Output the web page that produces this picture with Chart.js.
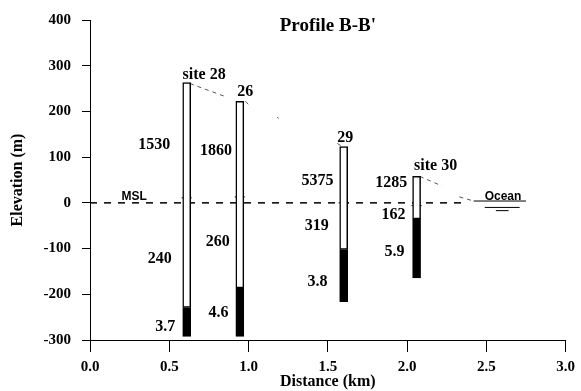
<!DOCTYPE html>
<html>
<head>
<meta charset="utf-8">
<script src="https://cdn.jsdelivr.net/npm/chart.js@4.4.1/dist/chart.umd.min.js"></script>
<style>
  html, body { margin: 0; padding: 0; background: #fff; }
  #wrap { width: 581px; height: 391px; }
</style>
</head>
<body>
<div id="wrap"><canvas id="chart"></canvas></div>
<script>
// wells along profile B-B'
const wellNames = ['site 28', '26', '29', 'site 30'];
const wellDistance = [0.61, 0.945, 1.60, 2.06];   // km
const wellTop = [263, 222, 123, 58];             // m
const wellBlackTop = [-229, -186, -102, -35];
const wellBottom = [-292, -292, -216, -164];
const wellMark = [11, 13, 0, -6];                // small cross line near MSL

// numbers written beside each well
const upperValues = ['1530', '1860', '5375', '1285'];
const middleValues = ['240', '260', '319', '162'];
const lowerValues = ['3.7', '4.6', '3.8', '5.9'];

// ground surface, only the pieces that survive in the scan (null = gap)
const profileDistance = [0.63, 0.85, 0.86, 0.98, 1.01, 1.02, 1.18, 1.19, 1.20, 1.56, 1.60, 1.61, 2.08, 2.22, 2.23, 2.33, 2.42];
const profileElev = [261, 233, null, 222, 212, null, 187, 185, null, 130, 121, null, 58, 37, null, 13, 4];

const mslDistance = [0, 2.35];
const oceanDistance = [2.42, 2.75];
const oceanLevel = 4;
const waterDistance = [[2.49, 2.71], [2.56, 2.64]];
const waterLevel = [-10, -17];

const serif = '"Liberation Serif", "Times New Roman", serif';
const sans = '"Liberation Sans", Arial, sans-serif';

// where the text goes, in km / m
const labelSpots = {
  names: [[0.72, 281], [0.98, 242], [1.61, 143], [2.18, 82]],
  upper: [[0.405, 126], [0.795, 113], [1.435, 49], [1.90, 43]],
  middle: [[0.44, -122], [0.805, -86], [1.43, -50], [1.915, -26]],
  lower: [[0.474, -272], [0.811, -240], [1.435, -173], [1.92, -108]]
};

const textLayer = {
  id: 'textLayer',
  afterDatasetsDraw(chart) {
    const {ctx, scales: {x, y}} = chart;
    ctx.save();
    ctx.fillStyle = '#000';
    ctx.textAlign = 'center';
    ctx.textBaseline = 'middle';
    const put = (text, at, font) => {
      ctx.font = font;
      ctx.fillText(text, x.getPixelForValue(at[0]), y.getPixelForValue(at[1]));
    };
    const big = 'bold 16px ' + serif;
    wellNames.forEach((t, i) => put(t, labelSpots.names[i], big));
    upperValues.forEach((t, i) => put(t, labelSpots.upper[i], big));
    middleValues.forEach((t, i) => put(t, labelSpots.middle[i], big));
    lowerValues.forEach((t, i) => put(t, labelSpots.lower[i], big));
    put("Profile B-B'", [1.5, 386], 'bold 19px ' + serif);
    put('MSL', [0.278, 14], 'bold 12px ' + sans);
    put('Ocean', [2.605, 14], 'bold 12px ' + sans);
    ctx.restore();
  }
};

const segment = (xs, yOf) => xs.map((d, i) => ({x: d, y: yOf(i)}));

const datasets = [
  {
    type: 'bar',
    data: wellDistance.map((d, i) => ({x: d, y: [wellBlackTop[i], wellTop[i]]})),
    backgroundColor: '#fff', borderColor: '#000', borderWidth: 1.5,
    borderSkipped: false, barThickness: 8, grouped: false
  },
  {
    type: 'bar',
    data: wellDistance.map((d, i) => ({x: d, y: [wellBottom[i], wellBlackTop[i]]})),
    backgroundColor: '#000', borderColor: '#000', borderWidth: 1.5,
    borderSkipped: false, barThickness: 8, grouped: false
  },
  {
    type: 'scatter',
    data: segment(wellDistance, i => wellMark[i]),
    pointStyle: 'line', radius: 5, borderColor: '#000', borderWidth: 1
  },
  {
    type: 'line',
    data: segment(profileDistance, i => profileElev[i]),
    borderColor: '#555', borderWidth: 1, borderDash: [4, 4],
    pointRadius: 0, spanGaps: false
  },
  {
    type: 'line',
    data: segment(mslDistance, () => 0),
    borderColor: '#000', borderWidth: 1.5, borderDash: [7, 7], pointRadius: 0
  },
  {
    type: 'line',
    data: segment(oceanDistance, () => oceanLevel),
    borderColor: '#000', borderWidth: 1, pointRadius: 0
  },
  ...waterDistance.map((xs, k) => ({
    type: 'line',
    data: segment(xs, () => waterLevel[k]),
    borderColor: '#000', borderWidth: 1, pointRadius: 0
  }))
];

new Chart(document.getElementById('chart'), {
  type: 'scatter',
  data: {datasets},
  plugins: [textLayer],
  options: {
    responsive: true,
    maintainAspectRatio: false,
    animation: false,
    layout: {padding: {top: 16, right: 0, bottom: 0, left: 0}},
    plugins: {legend: {display: false}, tooltip: {enabled: false}},
    scales: {
      x: {
        type: 'linear', min: 0, max: 3, offset: false,
        afterFit: s => { s.height = 51; },
        ticks: {stepSize: 0.5, callback: v => v.toFixed(1), color: '#000',
                font: {family: serif, size: 15, weight: 'bold'}, padding: 6, maxRotation: 0},
        grid: {drawOnChartArea: false, tickLength: 12, color: '#000', offset: false},
        border: {color: '#000', width: 1},
        title: {display: true, text: 'Distance (km)', color: '#000',
                font: {family: serif, size: 16, weight: 'bold'}, padding: {top: 0, bottom: 0}}
      },
      y: {
        type: 'linear', min: -300, max: 400,
        afterFit: s => { s.width = 90; },
        ticks: {stepSize: 100, color: '#000', font: {family: serif, size: 15, weight: 'bold'}, padding: 11},
        grid: {drawOnChartArea: false, tickLength: 8, color: '#000'},
        border: {color: '#000', width: 1},
        title: {display: true, text: 'Elevation (m)', color: '#000',
                font: {family: serif, size: 16, weight: 'bold'}, padding: {top: 8, bottom: 0}}
      }
    }
  }
});
</script>
</body>
</html>
